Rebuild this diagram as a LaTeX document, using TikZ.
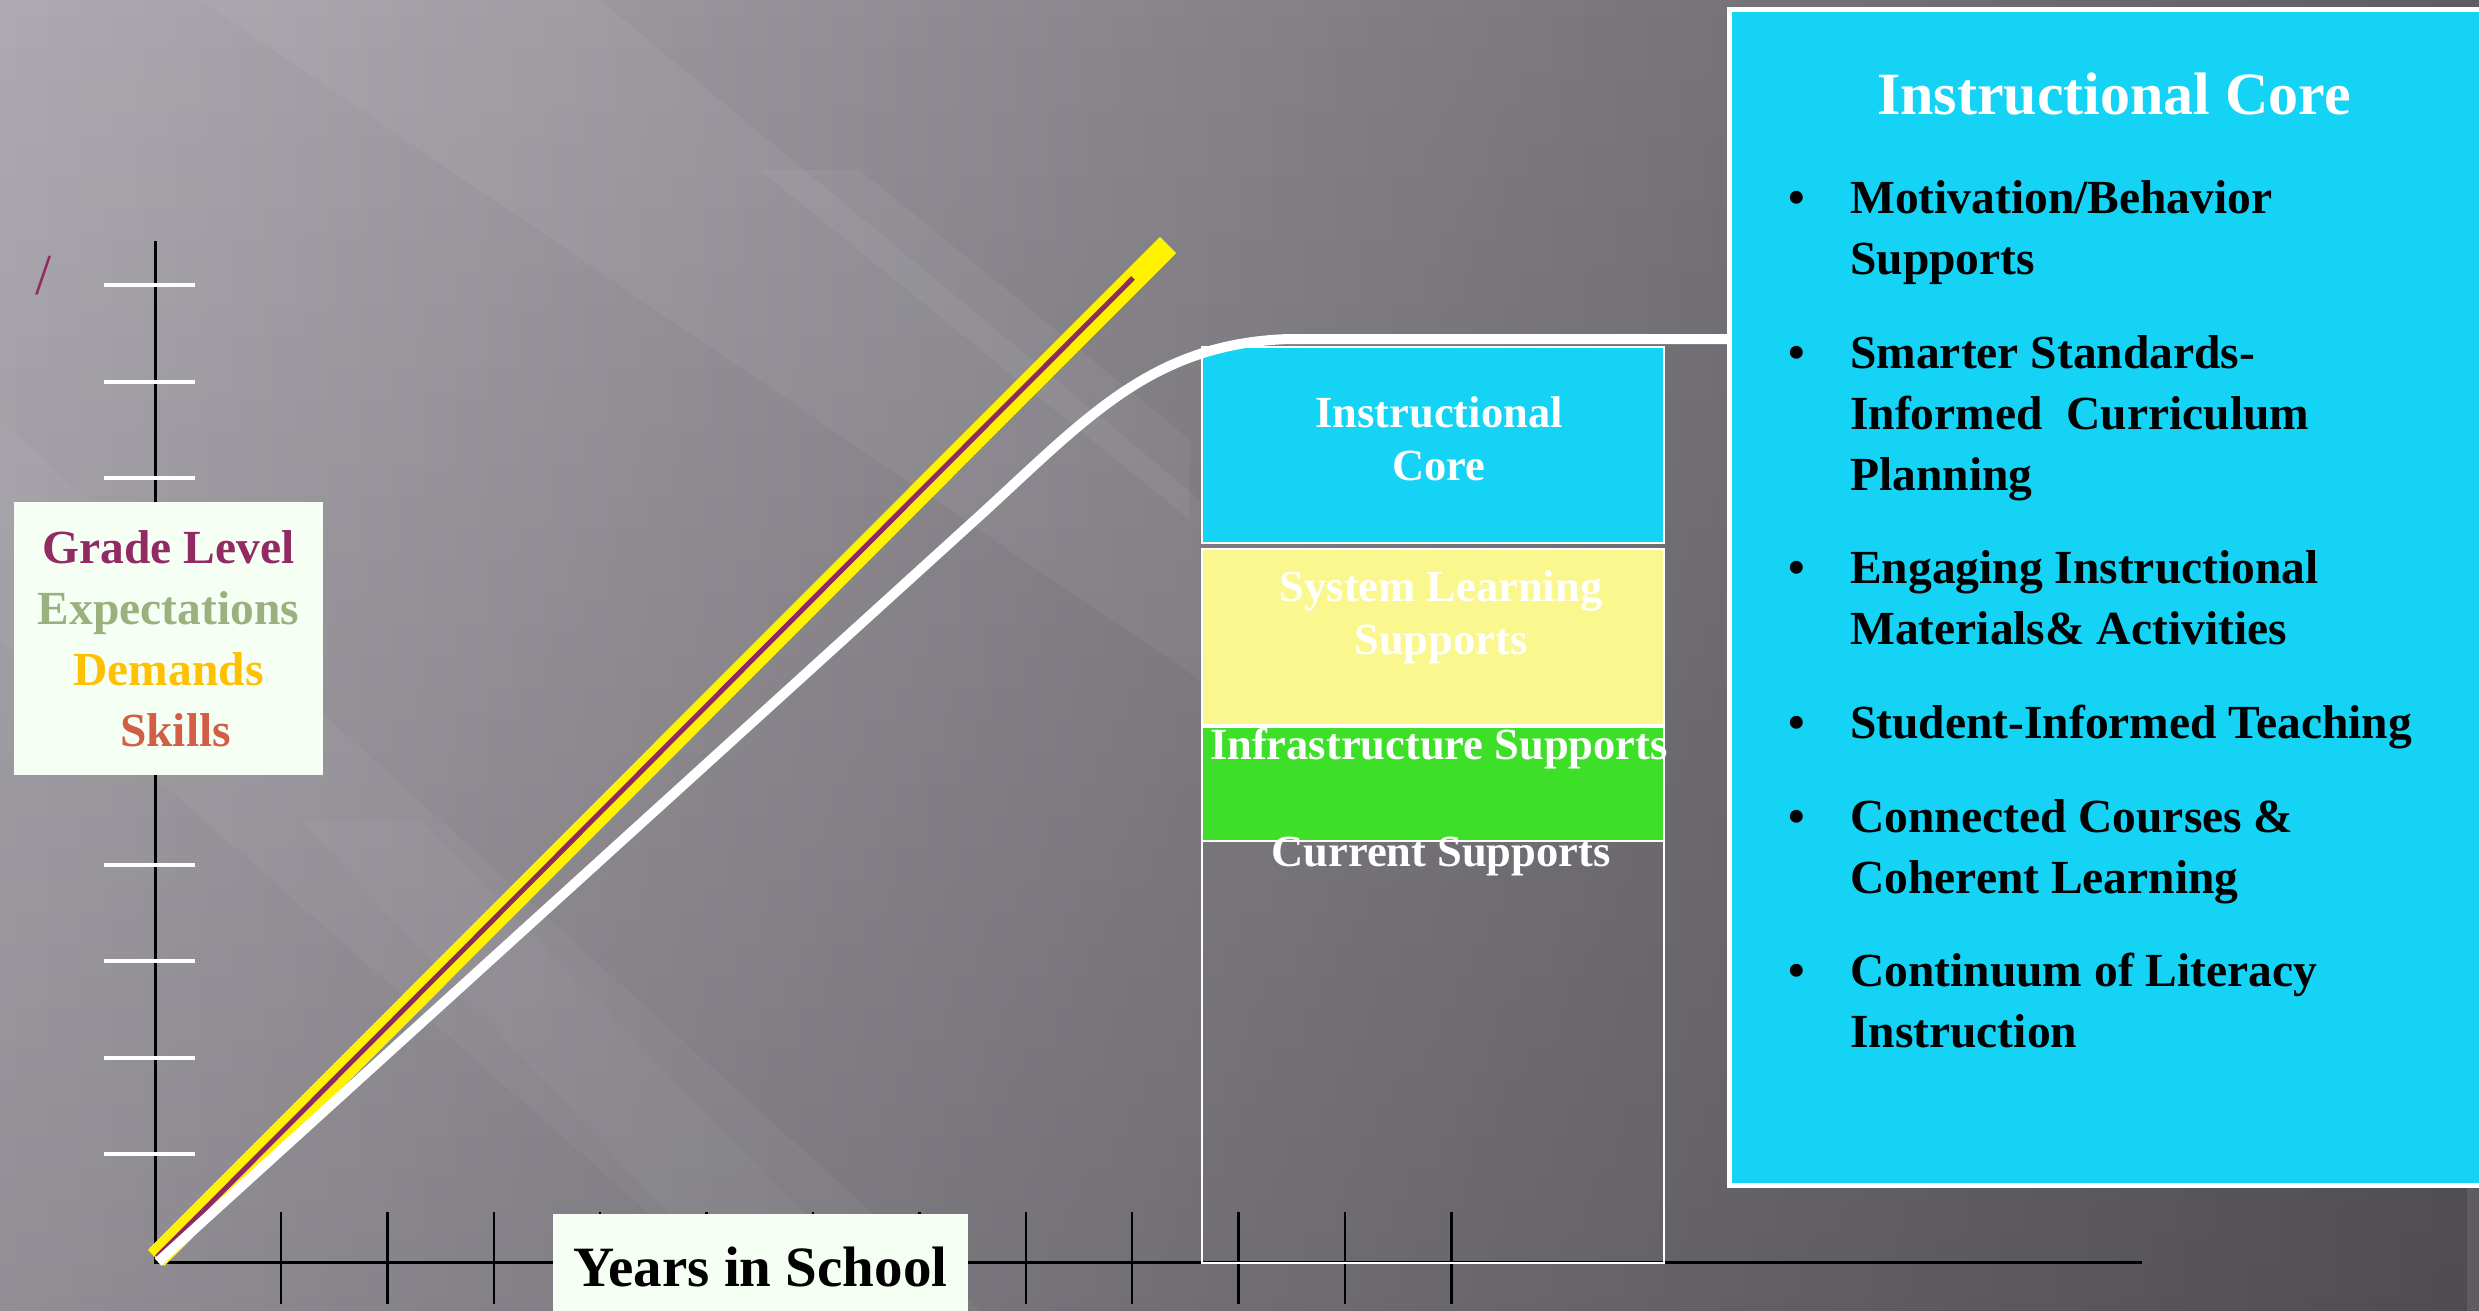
\documentclass[tikz,border=0pt]{standalone}
\usepackage{fontspec}
\setmainfont{Liberation Serif}
\usetikzlibrary{fadings}

\definecolor{bgLight}{HTML}{ADAAB1}
\definecolor{bgMid}{HTML}{6C696F}
\definecolor{bgDark}{HTML}{5E5B61}
\definecolor{coreCyan}{HTML}{14D3F5}
\definecolor{sysYellow}{HTML}{FAF78F}
\definecolor{infraGreen}{HTML}{3EDF28}
\definecolor{paleBox}{HTML}{F6FFF4}
\definecolor{gradeCol}{HTML}{922A64}
\definecolor{expectCol}{HTML}{9BB07F}
\definecolor{demandCol}{HTML}{FFC000}
\definecolor{skillsCol}{HTML}{D25E46}
\definecolor{lineMag}{HTML}{8E2A62}

\begin{document}
\begin{tikzpicture}
        [x=1pt, y=-1pt,
        every node/.style={inner sep=0pt, font=\bfseries},
        boxtext/.style={font=\fontsize{44.5}{53}\selectfont\bfseries, text=white, anchor=base},
        itemtext/.style={font=\fontsize{47.5}{61}\selectfont\bfseries, anchor=base west, align=left},
        dotmark/.style={font=\fontsize{47.5}{61}\selectfont\bfseries, anchor=base},
        labelbox/.style={fill=paleBox, align=center, font=\fontsize{47.5}{61}\selectfont\bfseries},
        stackbox/.style={draw=white, line width=2pt, anchor=north west, minimum width=462pt},
        axisline/.style={draw=black, line width=3pt},
        ytick/.style={draw=white, line width=4pt},
        xtick/.style={draw=black, line width=2.5pt}]

    \useasboundingbox (0,0) rectangle (2479,1311);
    \shade[left color=bgLight, middle color=bgMid, right color=bgDark]
      (0,0) rectangle (2479,1311);
    \fill[black, opacity=0.16, path fading=north] (0,0) rectangle (2479,1311);
    \fill[white, opacity=0.05] (200,0) -- (600,0) -- (1200,500) -- (1200,680) -- cycle;
    \fill[white, opacity=0.04] (0,420) -- (0,640) -- (760,1311) -- (980,1311) -- cycle;
    \fill[white, opacity=0.05] (760,170) -- (860,170) -- (1190,440) -- (1190,520) -- cycle;
    \fill[white, opacity=0.03] (300,820) -- (420,820) -- (900,1311) -- (760,1311) -- cycle;

    % axes
    \coordinate (O) at (155,1262);
    \coordinate (ytop) at (155,241);
    \coordinate (xend) at (2142,1262);
    \draw[axisline] (ytop) -- (O) -- (xend);
    \foreach \k in {0,...,9}
      \draw[ytick] (104,{285+96.6*\k}) -- (195,{285+96.6*\k});
    \foreach \k in {0,...,11}
      \draw[xtick] ({281+106.4*\k},1212) -- ({281+106.4*\k},1304);

    % stacked supports
    \node[stackbox, minimum height=424pt] (current) at (1201,838) {};
    \node[stackbox, fill=sysYellow, minimum height=176pt] (syslearn) at (1201,548) {};
    \node[stackbox, fill=infraGreen, minimum height=114pt] (infra) at (1201,726) {};
    \node[stackbox, fill=coreCyan, minimum height=196pt] (core) at (1201,346) {};

    \node[boxtext, align=center] (coretext) at (1439,480) {Instructional\\Core};
    \node[boxtext, align=center] (systext) at (1441,654) {System Learning\\Supports};
    \node[boxtext] (infratext) at (1439,759) {Infrastructure Supports};
    \node[boxtext] (curtext) at (1441,866) {Current Supports};

    % right panel
    \node[draw=white, line width=5pt, fill=coreCyan, anchor=north west,
          minimum width=800pt, minimum height=1176pt] (panel) at (1727,7) {};
    \node[font=\fontsize{60}{72}\selectfont\bfseries, text=white, anchor=base] (title) at (2114,115) {Instructional Core};

    \node[dotmark] at (1797,213) {•};
    \node[itemtext] (item1) at (1850,274) {Motivation/Behavior\\Supports};
    \node[dotmark] at (1797,368) {•};
    \node[itemtext] (item2) at (1850,490) {Smarter Standards-\\Informed\ \ Curriculum\\Planning};
    \node[dotmark] at (1797,583) {•};
    \node[itemtext] (item3) at (1850,644) {Engaging Instructional\\Materials\& Activities};
    \node[dotmark] at (1797,738) {•};
    \node[itemtext] (item4) at (1850,738) {Student-Informed Teaching};
    \node[dotmark] at (1797,832) {•};
    \node[itemtext] (item5) at (1850,893) {Connected Courses \&\\Coherent Learning};
    \node[dotmark] at (1797,986) {•};
    \node[itemtext] (item6) at (1850,1047) {Continuum of Literacy\\Instruction};

    % growth lines
    \coordinate (yStart) at (156,1258);
    \coordinate (yEnd) at (1168,245);
    \coordinate (mStart) at (157,1257);
    \coordinate (mEnd) at (1133,278);
    \coordinate (wStart) at (158,1262);
    \coordinate (wBend) at (975,520);
    \coordinate (wFlat) at (1290,339);
    \coordinate (wEnd) at (panel.west |- wFlat);
    \draw[yellow, line width=23pt] (yStart) -- (yEnd);
    \draw[lineMag, line width=5pt] (mStart) -- (mEnd);
    \draw[white, line width=10pt] (wStart) -- (wBend) .. controls (1085,420) and (1150,343) .. (wFlat) -- (wEnd);

    % labels
    \node[labelbox, minimum width=309pt, minimum height=273pt] (grade) at (168.5,638.5)
      {\textcolor{gradeCol}{Grade Level}\\ \textcolor{expectCol}{Expectations}\\
       \textcolor{demandCol}{Demands}\\ \hspace*{14pt}\textcolor{skillsCol}{Skills}};
    \node[font=\fontsize{58}{60}\selectfont, text=gradeCol, anchor=base west] (slash) at (35,294) {/};
    \node[fill=paleBox, font=\fontsize{57}{60}\selectfont\bfseries, text depth=0pt,
          minimum width=415pt, minimum height=106pt] (years) at (760.5,1267) {Years in School};
\end{tikzpicture}
\end{document}
